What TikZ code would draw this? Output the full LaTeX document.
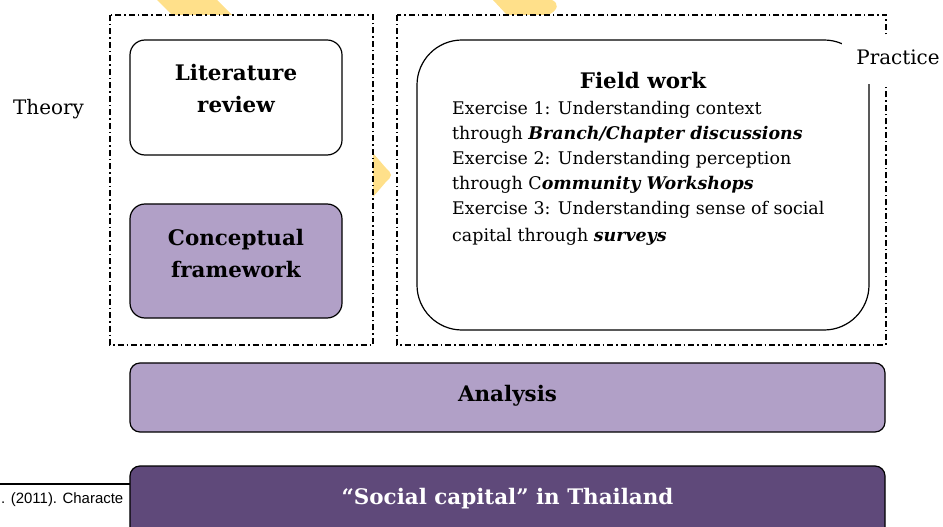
\documentclass[tikz,border=0pt]{standalone}
\usepackage{fontspec}
\setmainfont{DejaVu Serif}
\newfontfamily\citefont{Liberation Sans}
\definecolor{lavender}{HTML}{B1A0C7}
\definecolor{plum}{HTML}{5F497A}
\definecolor{marker}{HTML}{FFE08A}

\begin{document}
\begin{tikzpicture}[x=1bp, y=-1bp, every node/.style={inner sep=0pt, align=center}]
        \tikzset{framebox/.style={line width=1.3bp, dash pattern=on 6bp off 3bp on 1.5bp off 3bp}}
        \tikzset{stagebox/.style={draw, line width=1.2bp, rounded corners=15bp}}
        \tikzset{bandbox/.style={draw, line width=1.2bp, rounded corners=10bp, minimum width=755bp}}
        \tikzset{heading/.style={anchor=base, font=\bfseries\fontsize{21.5}{33}\selectfont}}
        \tikzset{side/.style={anchor=base, font=\fontsize{20}{24}\selectfont}}
        \useasboundingbox (0,0) rectangle (943,527);
        \clip (0,0) rectangle (943,527);
        % yellow marks behind
        \fill[marker] (157,0) -- (217,0) -- (232,15) -- (172,15) -- cycle;
        \fill[marker] (493,0) -- (507,15) -- (548,15) .. controls (559,10) and (559,3) .. (552,0) -- cycle;
        \fill[marker] (373,153) -- (385,167) .. controls (393,175) .. (385,183) -- (373,197) -- cycle;
        % theory and practice frames
        \draw[framebox] (110,15) rectangle (373,345);
        \draw[framebox] (397,15) rectangle (886,345);
        % base anchor of a wrapped node sits on its last line
        \node[stagebox, minimum width=212bp, minimum height=115bp] (lit) at (236,97.5) {};
        \node[heading] (littxt) at (236,113) {Literature\\review};
        \node[stagebox, fill=lavender, minimum width=212bp, minimum height=114bp] (concept) at (236,261) {};
        \node[heading] (concepttxt) at (236,278) {Conceptual\\framework};
        \node[stagebox, rounded corners=45bp, minimum width=452bp, minimum height=290bp] (field) at (643,185) {};
        \node[heading] (fieldtxt) at (643,89) {Field work};
        \node[anchor=base west, align=left, font=\fontsize{17.5}{25}\selectfont] (exercises) at (452,242)
          {Exercise 1: Understanding context\\
           through \textbf{\textit{Branch/Chapter discussions}}\\
           Exercise 2: Understanding perception\\
           through C\textbf{\textit{ommunity Workshops}}\\
           Exercise 3: Understanding sense of social\\[3bp]
           capital through \textbf{\textit{surveys}}};
        \node[side] (theory) at (48.5,115) {Theory};
        \node[fill=white, minimum width=102bp, minimum height=48bp] (practicebg) at (893,60) {};
        \node[side] (practice) at (898,65) {Practice};
        % lower bands
        \node[bandbox, fill=lavender, minimum height=69bp] (analysis) at (507.5,397.5) {};
        \node[heading] (analysistxt) at (507.5,401) {Analysis};
        \draw[line width=1.2bp] (0,484) -- (130,484);
        \node[anchor=base west, font=\citefont\fontsize{15}{17}\selectfont] (cite) at (1,503) {. (2011). Characte};
        \node[bandbox, fill=plum, minimum height=90bp] (social) at (507.5,511) {};
        \node[heading, text=white] (socialtxt) at (507.5,504) {``Social capital'' in Thailand};
\end{tikzpicture}
\end{document}
